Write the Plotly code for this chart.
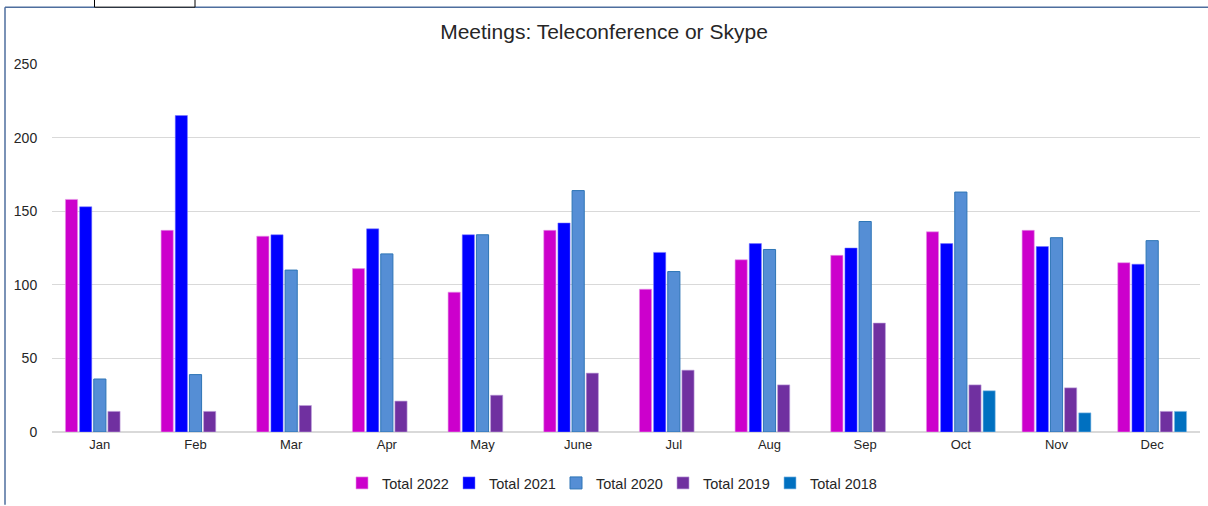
import plotly.graph_objects as go

months = ["Jan", "Feb", "Mar", "Apr", "May", "June", "Jul", "Aug", "Sep", "Oct", "Nov", "Dec"]
total_2022 = [158, 137, 133, 111, 95, 137, 97, 117, 120, 136, 137, 115]
total_2021 = [153, 215, 134, 138, 134, 142, 122, 128, 125, 128, 126, 114]
total_2020 = [36, 39, 110, 121, 134, 164, 109, 124, 143, 163, 132, 130]
total_2019 = [14, 14, 18, 21, 25, 40, 42, 32, 74, 32, 30, 14]
total_2018 = [None, None, None, None, None, None, None, None, None, 28, 13, 14]

series = [
    ("Total 2022", total_2022, "#CC00CC", "rgba(230,150,230,0.6)"),
    ("Total 2021", total_2021, "#0000FF", "rgba(120,120,255,0.5)"),
    ("Total 2020", total_2020, "#558ED5", "#2E75B6"),
    ("Total 2019", total_2019, "#7030A0", "rgba(190,160,220,0.6)"),
    ("Total 2018", total_2018, "#0070C0", "rgba(140,190,230,0.6)"),
]

fig = go.Figure()
for name, vals, color, line in series:
    fig.add_trace(go.Bar(
        x=months, y=vals, name=name,
        marker=dict(color=color, line=dict(color=line, width=1)),
    ))

L, R, T, B = 52, 8, 64, 73
W, H = 1208, 506
pw, ph = W - L - R, H - T - B

def px(x):
    return (x - L) / pw

def py(y):
    return (H - B - y) / ph

shapes = [
    dict(type="line", xref="paper", yref="paper", x0=px(5), x1=px(5), y0=py(7), y1=py(506),
         line=dict(color="#4E6E9E", width=1.5)),
    dict(type="line", xref="paper", yref="paper", x0=px(5), x1=px(1210), y0=py(7), y1=py(7),
         line=dict(color="#4E6E9E", width=1.5)),
    dict(type="rect", xref="paper", yref="paper", x0=px(94.5), x1=px(195), y0=py(7), y1=py(-3),
         line=dict(color="#000000", width=1), fillcolor="white"),
]

fig.update_layout(
    width=W, height=H,
    margin=dict(l=L, r=R, t=T, b=B),
    paper_bgcolor="white", plot_bgcolor="white",
    barmode="group", bargap=0.26, bargroupgap=0.14,
    font=dict(family="Liberation Sans, Arial, sans-serif", size=13, color="#404040"),
    title=dict(text="Meetings: Teleconference or Skype", x=0.5, xanchor="center",
               y=1 - 32 / H, yanchor="middle",
               font=dict(family="Liberation Sans, Arial, sans-serif", size=21, color="#262626")),
    xaxis=dict(showgrid=False, showline=True, linecolor="#D9D9D9", linewidth=1,
               ticks="", tickfont=dict(size=13, color="#262626")),
    yaxis=dict(range=[0, 250], tickvals=[0, 50, 100, 150, 200, 250], showgrid=True,
               gridcolor="#D9D9D9", gridwidth=1, zeroline=True, zerolinecolor="#D9D9D9",
               ticks="outside", ticklen=11, tickcolor="rgba(0,0,0,0)",
               tickfont=dict(size=14, color="#262626")),
    legend=dict(orientation="h", x=px(342), xanchor="left", y=py(483), yanchor="middle",
                font=dict(size=14.5, color="#262626"), itemwidth=30, traceorder="normal",
                entrywidth=62, entrywidthmode="pixels"),
    shapes=shapes,
)

fig.write_html("out.html", config={"displayModeBar": False},
               post_script="document.body.style.margin='0';")
